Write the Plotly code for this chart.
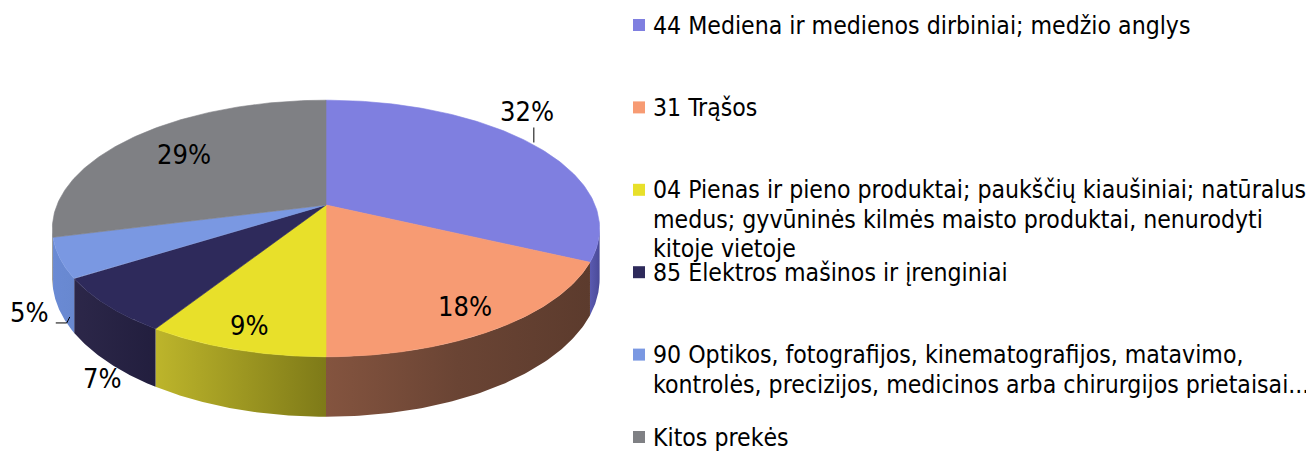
import numpy as np
import plotly.graph_objects as go

# ---------------- data ----------------
categories = [
    "44 Mediena ir medienos dirbiniai; medžio anglys",
    "31 Trąšos",
    "04 Pienas ir pieno produktai; paukščių kiaušiniai; natūralus medus; gyvūninės kilmės maisto produktai, nenurodyti kitoje vietoje",
    "85 Elektros mašinos ir įrenginiai",
    "90 Optikos, fotografijos, kinematografijos, matavimo, kontrolės, precizijos, medicinos arba chirurgijos prietaisai...",
    "Kitos prekės",
]
legend_lines = [
    ["44 Mediena ir medienos dirbiniai; medžio anglys"],
    ["31 Trąšos"],
    ["04 Pienas ir pieno produktai; paukščių kiaušiniai; natūralus",
     "medus; gyvūninės kilmės maisto produktai, nenurodyti",
     "kitoje vietoje"],
    ["85 Elektros mašinos ir įrenginiai"],
    ["90 Optikos, fotografijos, kinematografijos, matavimo,",
     "kontrolės, precizijos, medicinos arba chirurgijos prietaisai..."],
    ["Kitos prekės"],
]
shares = [32, 18, 9, 7, 5, 29]

# ---------------- style ----------------
top_colors = ["#7F7FE0", "#F79B73", "#E8E02A", "#2E2A5B", "#7A98E2", "#7F8084"]
side_scales = [
    [[0, "#5A5AB0"], [1, "#4A4A98"]],
    [[0, "#84543F"], [0.5, "#6A4434"], [1, "#5C3B2D"]],
    [[0, "#BDB52B"], [1, "#7E7A18"]],
    [[0, "#2C2749"], [1, "#221E3E"]],
    [[0, "#6A8AD4"], [1, "#6888D0"]],
    [[0, "#666666"], [1, "#5E5E5E"]],
]
FONT = "DejaVu Sans Condensed, DejaVu Sans, sans-serif"

W, H = 1314, 453
OFF = 8                  # page body margin
CX, CY = 326.0, 205.0    # pie centre (px)
R, K = 269.0, 124.0      # horizontal / depth radii
C = 0.183                # perspective factor
T = 49.0                 # thickness

def proj(theta, r=1.0, z=0.0):
    th = np.radians(theta)
    u, w = r * np.sin(th), r * np.cos(th)
    s = 1.0 / (1.0 + C * w)
    return CX + R * u * s, CY - K * w * s + z * T * s

total = float(sum(shares))
bounds = np.concatenate([[0], np.cumsum(shares)]) / total * 360.0

fig = go.Figure()

a_vis = np.degrees(np.arccos(-C))
vis_lo, vis_hi = a_vis, 360 - a_vis

# sides
for i in range(len(shares)):
    a1, a2 = bounds[i], bounds[i + 1]
    lo, hi = max(a1, vis_lo), min(a2, vis_hi)
    if hi <= lo:
        continue
    th = np.linspace(lo, hi, 80)
    xt, yt = proj(th)
    xb, yb = proj(th[::-1], z=1.0)
    xs = np.concatenate([xt, xb, xt[:1]])
    ys = np.concatenate([yt, yb, yt[:1]])
    fig.add_trace(go.Scatter(
        x=xs, y=ys, mode="lines", fill="toself",
        line=dict(width=0, color=side_scales[i][-1][1]),
        fillgradient=dict(type="horizontal", colorscale=side_scales[i]),
        hoverinfo="skip", showlegend=False))

# top faces
for i in range(len(shares)):
    a1, a2 = bounds[i], bounds[i + 1]
    th = np.linspace(a1, a2, 120)
    xa, ya = proj(th)
    x0, y0 = proj(0, r=0.0)
    xs = np.concatenate([[x0], xa, [x0]])
    ys = np.concatenate([[y0], ya, [y0]])
    fig.add_trace(go.Scatter(
        x=xs, y=ys, mode="lines", fill="toself", fillcolor=top_colors[i],
        line=dict(width=0.6, color=top_colors[i]),
        name=categories[i], hoverinfo="name", showlegend=False))

# data labels
label_place = [
    ("out_top", -6, 33),
    ("in", 0.84),
    ("in", 0.86),
    ("out_bot", -5, -16),
    ("out_bot", -30, -2),
    ("in", 0.72),
]
LBL = dict(size=27, color="black", family=FONT)
annotations = []
shapes = []
for i, v in enumerate(shares):
    mid = (bounds[i] + bounds[i + 1]) / 2
    txt = f"{round(100 * v / total)}%"
    p = label_place[i]
    if p[0] == "in":
        x, y = proj(mid, r=p[1])
        annotations.append(dict(x=x, y=y, text=txt, showarrow=False, font=LBL))
    else:
        z = 0.0 if p[0] == "out_top" else 1.0
        x, y = proj(mid, z=z)
        annotations.append(dict(x=x, y=y, text=txt, showarrow=False,
                                xshift=p[1], yshift=p[2], font=LBL))
        if i == 0:
            shapes.append(dict(type="line", x0=x + 1, x1=x + 1, y0=y - 2, y1=y - 17,
                               line=dict(color="black", width=1)))
        if i == 4:
            shapes.append(dict(type="path",
                               path=f"M {x-4} {y+12} L {x+7} {y+12} L {x+10} {y+6}",
                               line=dict(color="black", width=1)))

# legend
leg_x_sq, leg_x_txt = 633, 651
leg_y0, leg_step, line_h = 25, 82.4, 29.5
for i, lines in enumerate(legend_lines):
    yc = leg_y0 + i * leg_step
    shapes.append(dict(type="rect", x0=leg_x_sq, x1=leg_x_sq + 12, y0=yc - 6, y1=yc + 6,
                       fillcolor=top_colors[i], line=dict(width=0)))
    for k, ln in enumerate(lines):
        annotations.append(dict(x=leg_x_txt, y=yc + k * line_h, text=ln, showarrow=False,
                                xanchor="left", yanchor="middle", align="left",
                                font=dict(size=24.6, color="black", family=FONT)))

fig.update_layout(
    width=W - OFF, height=H - OFF,
    margin=dict(l=0, r=0, t=0, b=0),
    paper_bgcolor="white", plot_bgcolor="white",
    xaxis=dict(range=[OFF, W], visible=False, fixedrange=True),
    yaxis=dict(range=[H, OFF], visible=False, fixedrange=True),
    annotations=annotations, shapes=shapes,
    showlegend=False,
)

fig.write_html("out.html")
